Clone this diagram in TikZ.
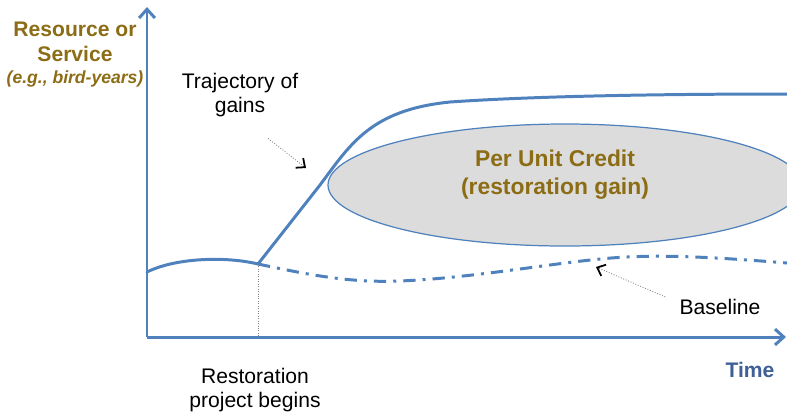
\documentclass[tikz,border=0pt]{standalone}
\usepackage{fontspec}
\setmainfont{Liberation Sans}
\usetikzlibrary{arrows.meta, positioning}

\definecolor{lineblue}{RGB}{79,129,189}
\definecolor{timeblue}{RGB}{63,95,150}
\definecolor{olive}{RGB}{140,108,20}
\definecolor{credgray}{RGB}{220,220,220}

\begin{document}
\begin{tikzpicture}[x=0.02cm, y=-0.02cm,
    axis/.style={lineblue, line width=1.7pt, -{Straight Barb[length=5pt, width=9pt]}},
    curve/.style={lineblue, line width=1.7pt, line cap=round},
    pointer/.style={gray, line width=0.5pt, densely dotted, -{Straight Barb[length=4pt, width=7pt, black, line width=1pt]}},
    label/.style={font=\fontsize{12}{14}\selectfont, align=center, inner sep=0pt},
    title/.style={font=\bfseries\fontsize{12}{14}\selectfont, align=center, inner sep=0pt, olive}]
    \clip (0,0) rectangle (787,417);

    % axes
    \coordinate (O) at (147,337);
    \coordinate (ytop) at (147,7);
    \coordinate (xend) at (786,337);
    \draw[axis] (O) -- (ytop);
    \draw[axis] (O) -- (xend);

    % per unit credit
    \draw[lineblue, fill=credgray, line width=0.7pt] (565,185) ellipse [x radius=237, y radius=61];
    \node[title, font=\bfseries\fontsize{13}{16}\selectfont] (credit) at (555,175)
        {Per Unit Credit\\(restoration gain)};

    % baseline before the project
    \coordinate (s) at (258,264);
    \draw[curve] (147,272) .. controls (175,258) and (225,256) .. (s);
    \draw[gray, line width=0.4pt, densely dotted] (s) -- (s |- O);

    % trajectory of gains
    \draw[curve] (s) -- (320,185) .. controls (350,145) and (370,110) .. (450,102)
        .. controls (550,95) and (700,94) .. (787,94);

    % baseline after the project
    \draw[curve, line cap=butt, dash pattern=on 7pt off 4pt on 1.7pt off 4pt]
        (s) .. controls (310,275) and (350,283) .. (400,281)
        .. controls (470,278) and (540,265) .. (600,259)
        .. controls (650,254) and (700,256) .. (787,263);

    % labels
    \node[title] (ylab) at (75,42) {Resource or\\Service};
    \node[title, font=\bfseries\itshape\fontsize{10}{12}\selectfont, below=5pt of ylab]
        (yunit) {(e.g., bird-years)};
    \node[label, font=\bfseries\fontsize{12}{14}\selectfont, timeblue] (time) at (750,370) {Time};
    \node[label] (start) at (255,390) {Restoration\\project begins};
    \node[label] (traj) at (240,95) {Trajectory of\\gains};
    \node[label] (base) at (720,307) {Baseline};

    % pointers
    \coordinate (trajtip) at (306,168);
    \coordinate (basetip) at (596,267);
    \draw[pointer] (traj.south) ++(28,21) -- (trajtip);
    \draw[pointer] (base.north west) ++(-14,-2) -- (basetip);
\end{tikzpicture}
\end{document}
